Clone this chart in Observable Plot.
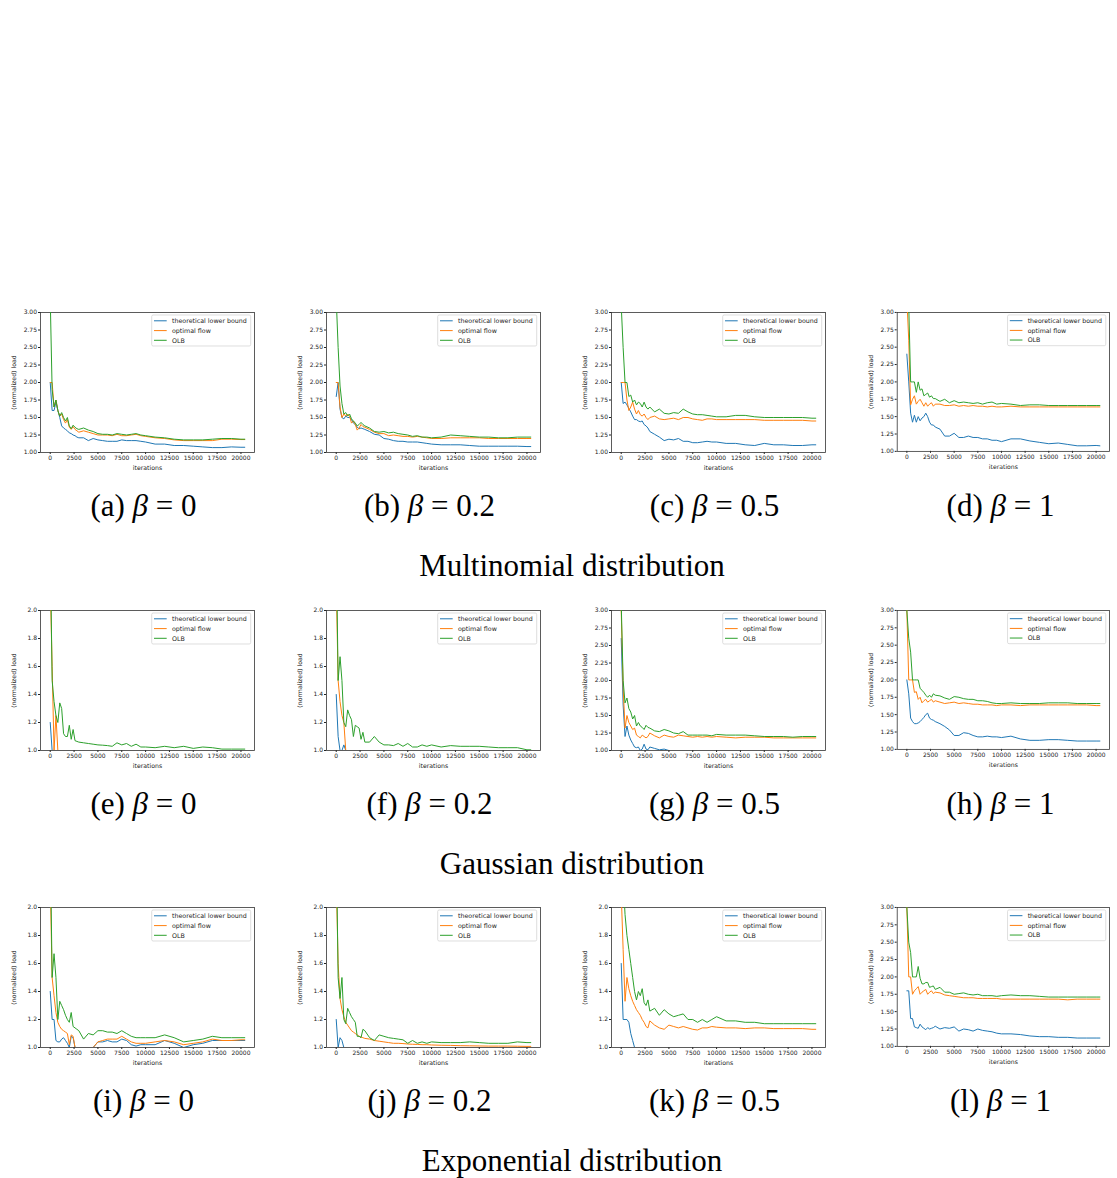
<!DOCTYPE html>
<html><head><meta charset="utf-8">
<script src="https://cdn.jsdelivr.net/npm/d3@7"></script>
<script src="https://cdn.jsdelivr.net/npm/@observablehq/plot@0.6"></script>
<style>
html,body{margin:0;padding:0;background:#fff}
body{width:1117px;height:1178px;position:relative;overflow:hidden}
.panel{position:absolute}
.cap{position:absolute;font-family:"Liberation Serif",serif;font-size:31px;color:#000;white-space:nowrap;transform:translate(-50%,-50%);line-height:1}
</style></head><body>
<script>
// ---- data ----
const iterations = [0,200,400,600,800,1000,1200,1400,1600,1800,2000,2200,2400,2600,2800,3000,3500,4000,4500,5000,5500,6000,6500,7000,7500,8000,8500,9000,9500,10000,11000,12000,13000,14000,15000,16000,17000,18000,19000,20000,20400];
const seriesNames = ["theoretical lower bound", "optimal flow", "OLB"];
const seriesColors = ["#1f77b4", "#ff7f0e", "#2ca02c"];
const panelLetters = ["a","b","c","d","e","f","g","h","i","j","k","l"];
const betas = ["0","0.2","0.5","1"];
const distributions = ["Multinomial distribution","Gaussian distribution","Exponential distribution"];
const yMaxima = [3,3,3,3, 2,2,3,3, 2,2,2,3];
const xTicks = [0,2500,5000,7500,10000,12500,15000,17500,20000];

// Multinomial
const multiB0Lower = [2.0,1.6,1.6,1.72,1.6,1.5,1.38,1.35,1.33,1.31,1.28,1.27,1.25,1.24,1.22,1.21,1.21,1.17,1.2,1.18,1.17,1.16,1.16,1.16,1.18,1.17,1.17,1.17,1.16,1.15,1.12,1.12,1.1,1.1,1.09,1.08,1.07,1.07,1.08,1.075,1.075];
const multiB0Flow  = [2.0,2.0,1.65,1.75,1.6,1.52,1.55,1.47,1.42,1.47,1.36,1.33,1.37,1.33,1.31,1.29,1.31,1.29,1.27,1.25,1.25,1.25,1.24,1.26,1.24,1.24,1.25,1.26,1.24,1.23,1.21,1.2,1.18,1.17,1.17,1.17,1.17,1.19,1.19,1.185,1.185];
const multiB0OLB   = [3.2,1.9,1.65,1.75,1.6,1.52,1.57,1.5,1.45,1.5,1.38,1.34,1.39,1.36,1.34,1.33,1.35,1.32,1.3,1.27,1.26,1.26,1.25,1.27,1.26,1.25,1.26,1.27,1.25,1.24,1.22,1.21,1.19,1.18,1.18,1.18,1.19,1.2,1.2,1.19,1.19];
const multiB02Lower = [1.8,2.0,1.62,1.5,1.48,1.52,1.5,1.5,1.47,1.42,1.4,1.36,1.34,1.35,1.34,1.33,1.3,1.26,1.25,1.2,1.19,1.17,1.16,1.16,1.15,1.15,1.15,1.14,1.13,1.12,1.11,1.11,1.11,1.1,1.09,1.09,1.09,1.09,1.09,1.085,1.085];
const multiB02Flow  = [2.0,2.0,1.65,1.5,1.55,1.52,1.55,1.52,1.42,1.45,1.4,1.32,1.35,1.4,1.37,1.36,1.33,1.29,1.27,1.27,1.24,1.25,1.24,1.23,1.23,1.22,1.23,1.22,1.21,1.2,1.2,1.21,1.21,1.21,1.21,1.2,1.2,1.2,1.2,1.2,1.2];
const multiB02OLB   = [3.2,2.5,1.95,1.7,1.55,1.57,1.52,1.55,1.48,1.45,1.42,1.38,1.4,1.43,1.4,1.38,1.35,1.3,1.29,1.3,1.28,1.29,1.27,1.26,1.25,1.23,1.24,1.22,1.22,1.21,1.22,1.25,1.24,1.23,1.22,1.22,1.21,1.21,1.22,1.22,1.22];
const multiB05Lower = [2.0,1.7,1.72,1.68,1.63,1.58,1.52,1.47,1.47,1.45,1.44,1.45,1.4,1.38,1.35,1.3,1.26,1.22,1.17,1.19,1.18,1.2,1.16,1.16,1.14,1.14,1.15,1.16,1.15,1.15,1.13,1.13,1.11,1.1,1.13,1.11,1.11,1.1,1.1,1.11,1.11];
const multiB05Flow  = [2.0,2.0,2.0,1.75,1.6,1.65,1.72,1.62,1.55,1.6,1.54,1.52,1.55,1.5,1.47,1.5,1.52,1.48,1.47,1.48,1.49,1.47,1.5,1.5,1.48,1.47,1.46,1.48,1.48,1.47,1.47,1.47,1.47,1.47,1.46,1.46,1.46,1.46,1.46,1.45,1.45];
const multiB05OLB   = [3.1,2.5,2.0,2.0,1.8,1.82,1.72,1.75,1.68,1.72,1.7,1.65,1.72,1.65,1.62,1.65,1.58,1.62,1.56,1.55,1.57,1.56,1.62,1.58,1.55,1.54,1.54,1.53,1.52,1.51,1.51,1.53,1.53,1.51,1.5,1.5,1.5,1.5,1.5,1.49,1.49];
const multiB1Lower = [2.4,2.0,1.55,1.42,1.52,1.42,1.5,1.44,1.48,1.5,1.55,1.5,1.42,1.38,1.38,1.35,1.32,1.22,1.22,1.26,1.2,1.2,1.22,1.2,1.2,1.18,1.18,1.16,1.16,1.14,1.18,1.18,1.15,1.13,1.11,1.12,1.1,1.08,1.08,1.085,1.08];
const multiB1Flow  = [3.2,2.6,1.67,1.75,1.8,1.68,1.72,1.75,1.7,1.65,1.7,1.65,1.68,1.7,1.65,1.68,1.68,1.66,1.66,1.67,1.65,1.66,1.65,1.66,1.65,1.65,1.64,1.65,1.64,1.64,1.65,1.64,1.64,1.64,1.64,1.64,1.64,1.64,1.64,1.64,1.64];
const multiB1OLB   = [3.5,3.1,2.0,2.0,2.0,1.85,2.0,1.88,1.9,1.8,1.82,1.84,1.78,1.8,1.76,1.76,1.72,1.75,1.7,1.73,1.7,1.71,1.7,1.69,1.7,1.68,1.7,1.71,1.68,1.69,1.68,1.66,1.67,1.67,1.66,1.66,1.66,1.66,1.66,1.66,1.66];

// Gaussian
const gaussB0Lower = [1.2,1.0,1.0,1.0,1.0,1.0,1.0,1.0,1.0,1.0,1.0,1.0,1.0,1.0,1.0,1.0,1.0,1.0,1.0,1.0,1.0,1.0,1.0,1.0,1.0,1.0,1.0,1.0,1.0,1.0,1.0,1.0,1.0,1.0,1.0,1.0,1.0,1.0,1.0,1.0,1.0];
const gaussB0Flow  = [2.2,1.6,1.0,1.25,1.0,1.0,1.0,1.0,1.0,1.0,1.0,1.0,1.0,1.0,1.0,1.0,1.0,1.0,1.0,1.0,1.0,1.0,1.0,1.0,1.0,1.0,1.0,1.0,1.0,1.0,1.0,1.0,1.0,1.0,1.0,1.0,1.0,1.0,1.0,1.0,1.0];
const gaussB0OLB   = [2.5,1.5,1.35,1.25,1.2,1.34,1.3,1.12,1.1,1.1,1.18,1.08,1.15,1.07,1.065,1.06,1.055,1.05,1.045,1.04,1.038,1.035,1.03,1.055,1.04,1.05,1.03,1.045,1.025,1.025,1.02,1.03,1.02,1.03,1.015,1.025,1.02,1.01,1.01,1.01,1.01];
const gaussB02Lower = [1.4,1.1,1.0,1.0,1.04,1.0,1.0,1.0,1.0,1.0,1.0,1.0,1.0,1.0,1.0,1.0,1.0,1.0,1.0,1.0,1.0,1.0,1.0,1.0,1.0,1.0,1.0,1.0,1.0,1.0,1.0,1.0,1.0,1.0,1.0,1.0,1.0,1.0,1.0,1.0,1.0];
const gaussB02Flow  = [2.2,1.5,1.35,1.25,1.2,1.0,1.0,1.0,1.0,1.0,1.0,1.0,1.0,1.0,1.0,1.0,1.0,1.0,1.0,1.0,1.0,1.0,1.0,1.0,1.0,1.0,1.0,1.0,1.0,1.0,1.0,1.0,1.0,1.0,1.0,1.0,1.0,1.0,1.0,1.0,1.0];
const gaussB02OLB   = [2.5,1.5,1.67,1.5,1.2,1.17,1.29,1.25,1.22,1.1,1.18,1.17,1.16,1.08,1.13,1.06,1.06,1.1,1.06,1.04,1.04,1.035,1.05,1.03,1.05,1.025,1.025,1.04,1.03,1.04,1.025,1.035,1.03,1.03,1.03,1.025,1.02,1.02,1.02,1.005,1.005];
const gaussB05Lower = [2.6,1.65,1.2,1.35,1.22,1.15,1.1,1.05,1.04,1.05,1.0,1.02,1.09,1.02,1.01,1.05,1.03,1.01,1.02,1.0,1.0,1.0,1.0,1.0,1.0,1.0,1.0,1.0,1.0,1.0,1.0,1.0,1.0,1.0,1.0,1.0,1.0,1.0,1.0,1.0,1.0];
const gaussB05Flow  = [3.0,1.9,1.32,1.5,1.4,1.35,1.3,1.32,1.22,1.2,1.18,1.22,1.2,1.18,1.2,1.25,1.21,1.18,1.22,1.2,1.19,1.22,1.21,1.2,1.19,1.2,1.19,1.2,1.19,1.2,1.19,1.18,1.19,1.19,1.19,1.18,1.18,1.18,1.18,1.18,1.18];
const gaussB05OLB   = [3.1,2.0,1.68,1.75,1.6,1.55,1.45,1.5,1.35,1.4,1.35,1.33,1.3,1.36,1.33,1.32,1.28,1.27,1.3,1.28,1.25,1.24,1.27,1.22,1.22,1.22,1.22,1.22,1.21,1.23,1.22,1.22,1.22,1.21,1.2,1.2,1.2,1.19,1.2,1.2,1.2];
const gaussB1Lower = [2.0,1.8,1.45,1.4,1.37,1.37,1.38,1.4,1.43,1.46,1.5,1.52,1.45,1.43,1.42,1.4,1.37,1.33,1.28,1.2,1.2,1.24,1.23,1.2,1.18,1.18,1.19,1.18,1.18,1.17,1.19,1.15,1.13,1.13,1.14,1.14,1.13,1.12,1.12,1.12,1.12];
const gaussB1Flow  = [3.0,2.0,2.0,2.0,1.82,1.83,1.72,1.75,1.67,1.7,1.72,1.68,1.7,1.72,1.68,1.7,1.68,1.66,1.67,1.68,1.66,1.67,1.66,1.65,1.65,1.64,1.64,1.64,1.63,1.64,1.64,1.63,1.64,1.64,1.64,1.64,1.64,1.64,1.64,1.63,1.63];
const gaussB1OLB   = [3.0,2.6,2.4,2.0,2.0,2.0,2.0,1.88,1.85,1.82,1.78,1.75,1.78,1.75,1.8,1.78,1.77,1.74,1.72,1.76,1.75,1.73,1.72,1.72,1.7,1.7,1.69,1.67,1.66,1.66,1.67,1.66,1.66,1.66,1.67,1.67,1.67,1.66,1.66,1.66,1.66];

// Exponential
const expoB0Lower = [1.4,1.2,1.2,1.05,1.04,1.04,1.06,1.07,1.05,1.03,1.0,1.08,1.07,1.0,1.0,1.0,1.0,1.0,1.0,1.04,1.04,1.05,1.04,1.04,1.06,1.05,1.02,1.01,1.02,1.02,1.02,1.05,1.03,1.0,1.02,1.03,1.05,1.05,1.05,1.05,1.05];
const expoB0Flow  = [2.2,1.5,1.37,1.25,1.18,1.15,1.13,1.12,1.11,1.1,1.02,1.09,1.08,1.0,1.0,1.0,1.0,1.0,1.0,1.04,1.05,1.06,1.06,1.06,1.08,1.06,1.04,1.03,1.03,1.03,1.04,1.05,1.04,1.02,1.03,1.04,1.06,1.05,1.05,1.055,1.055];
const expoB0OLB   = [2.5,1.5,1.67,1.5,1.2,1.33,1.3,1.27,1.23,1.2,1.18,1.25,1.15,1.14,1.13,1.12,1.06,1.1,1.09,1.12,1.12,1.11,1.11,1.1,1.12,1.1,1.08,1.07,1.07,1.07,1.07,1.09,1.07,1.04,1.05,1.06,1.08,1.07,1.07,1.07,1.07];
const expoB02Lower = [1.2,1.0,1.07,1.05,1.0,1.0,1.0,1.0,1.0,1.0,1.0,1.0,1.0,1.0,1.0,1.0,1.0,1.0,1.0,1.0,1.0,1.0,1.0,1.0,1.0,1.0,1.0,1.0,1.0,1.0,1.0,1.0,1.0,1.0,1.0,1.0,1.0,1.0,1.0,1.0,1.0];
const expoB02Flow  = [2.2,1.6,1.35,1.27,1.22,1.18,1.16,1.14,1.12,1.11,1.1,1.09,1.08,1.075,1.07,1.065,1.06,1.05,1.045,1.04,1.035,1.03,1.03,1.028,1.025,1.023,1.022,1.02,1.02,1.018,1.016,1.015,1.013,1.012,1.011,1.01,1.01,1.01,1.009,1.008,1.008];
const expoB02OLB   = [2.5,1.5,1.35,1.5,1.2,1.17,1.28,1.25,1.22,1.2,1.18,1.08,1.08,1.07,1.13,1.12,1.07,1.05,1.09,1.08,1.07,1.065,1.06,1.055,1.03,1.05,1.03,1.04,1.03,1.04,1.035,1.035,1.035,1.04,1.035,1.03,1.03,1.03,1.04,1.035,1.035];
const expoB05Lower = [1.6,1.2,1.2,1.2,1.18,1.1,1.05,1.0,1.0,1.0,1.0,1.0,1.0,1.0,1.0,1.0,1.0,1.0,1.0,1.0,1.0,1.0,1.0,1.0,1.0,1.0,1.0,1.0,1.0,1.0,1.0,1.0,1.0,1.0,1.0,1.0,1.0,1.0,1.0,1.0,1.0];
const expoB05Flow  = [2.1,1.7,1.33,1.5,1.42,1.37,1.33,1.3,1.27,1.25,1.23,1.2,1.18,1.15,1.14,1.19,1.16,1.14,1.13,1.16,1.15,1.14,1.15,1.14,1.13,1.125,1.14,1.14,1.15,1.145,1.14,1.14,1.135,1.14,1.14,1.135,1.135,1.135,1.135,1.13,1.13];
const expoB05OLB   = [3.0,2.2,1.95,1.8,1.7,1.6,1.5,1.4,1.34,1.4,1.37,1.42,1.32,1.3,1.34,1.26,1.28,1.23,1.27,1.24,1.22,1.23,1.24,1.2,1.2,1.18,1.2,1.18,1.2,1.22,1.19,1.19,1.18,1.18,1.17,1.17,1.17,1.17,1.17,1.17,1.17];
const expoB1Lower = [1.8,1.8,1.4,1.4,1.28,1.27,1.26,1.32,1.28,1.26,1.24,1.27,1.25,1.26,1.27,1.29,1.25,1.27,1.26,1.28,1.22,1.25,1.24,1.22,1.25,1.23,1.22,1.21,1.19,1.18,1.18,1.17,1.15,1.14,1.14,1.13,1.13,1.12,1.12,1.12,1.12];
const expoB1Flow  = [3.0,2.0,2.0,1.75,1.8,1.83,1.86,1.75,1.78,1.8,1.82,1.75,1.78,1.8,1.76,1.78,1.77,1.74,1.73,1.72,1.71,1.7,1.7,1.7,1.69,1.69,1.69,1.69,1.69,1.68,1.68,1.68,1.68,1.68,1.68,1.68,1.67,1.68,1.68,1.68,1.68];
const expoB1OLB   = [3.0,2.5,2.35,2.0,2.0,2.0,2.15,1.98,1.9,1.9,1.92,1.92,1.85,1.86,1.87,1.82,1.85,1.78,1.78,1.75,1.76,1.77,1.75,1.74,1.75,1.73,1.73,1.73,1.72,1.73,1.74,1.73,1.73,1.72,1.71,1.71,1.71,1.71,1.71,1.71,1.71];

const panelSeries = [
  [multiB0Lower, multiB0Flow, multiB0OLB],
  [multiB02Lower, multiB02Flow, multiB02OLB],
  [multiB05Lower, multiB05Flow, multiB05OLB],
  [multiB1Lower, multiB1Flow, multiB1OLB],
  [gaussB0Lower, gaussB0Flow, gaussB0OLB],
  [gaussB02Lower, gaussB02Flow, gaussB02OLB],
  [gaussB05Lower, gaussB05Flow, gaussB05OLB],
  [gaussB1Lower, gaussB1Flow, gaussB1OLB],
  [expoB0Lower, expoB0Flow, expoB0OLB],
  [expoB02Lower, expoB02Flow, expoB02OLB],
  [expoB05Lower, expoB05Flow, expoB05OLB],
  [expoB1Lower, expoB1Flow, expoB1OLB]
];

// ---- layout ----
const colLeft = [40, 326, 611, 897];
const rowTop = [312, 610, 907];
const FW = 214, FH = 140;
const ML = 40, MR = 8, MT = 6, MB = 28;
const capOffsetY = 53, titleOffsetY = 113;

function legendMark(index, scales, values, dims) {
  const right = dims.width - dims.marginRight - 3.3;
  const top = dims.marginTop + 3;
  const bw = 99, bh = 31;
  const left = right - bw;
  const g = d3.create("svg:g");
  g.append("rect").attr("x", left).attr("y", top).attr("width", bw).attr("height", bh)
    .attr("rx", 1.5).attr("fill", "#fff").attr("fill-opacity", 0.8)
    .attr("stroke", "#d0d0d0").attr("stroke-width", 0.7);
  const rowsY = [5.8, 15.6, 25.3];
  seriesNames.forEach((name, i) => {
    const y = top + rowsY[i];
    g.append("line").attr("x1", left + 2.3).attr("x2", left + 15).attr("y1", y).attr("y2", y)
      .attr("stroke", seriesColors[i]).attr("stroke-width", 1);
    g.append("text").attr("x", left + 20.3).attr("y", y).attr("dy", "0.35em")
      .attr("text-anchor", "start")
      .attr("font-size", 6.3).attr("fill", "#222").text(name);
  });
  return g.node();
}

function makePanel(k) {
  const ymax = yMaxima[k];
  const data = panelSeries[k];
  const yTicks = ymax === 3 ? d3.range(9).map(i => 1 + i * 0.25) : d3.range(6).map(i => 1 + i * 0.2);
  const yFmt = ymax === 3 ? d3.format(".2f") : d3.format(".1f");
  const lineMarks = data.map((vals, s) =>
    Plot.line(iterations.map((x, i) => ({x, y: vals[i]})),
      {x: "x", y: "y", stroke: seriesColors[s], strokeWidth: 1, clip: true})
  );
  return Plot.plot({
    width: FW + ML + MR, height: FH + MT + MB,
    marginLeft: ML, marginRight: MR, marginTop: MT, marginBottom: MB,
    style: {fontFamily: "DejaVu Sans", fontSize: "6px", color: "#222", background: "transparent", overflow: "visible"},
    x: {domain: [-1020, 21420], ticks: xTicks, tickFormat: d3.format("d"), label: null, tickSize: 2, tickPadding: 1.5},
    y: {domain: [1, ymax], ticks: yTicks, tickFormat: yFmt, label: null, tickSize: 2, tickPadding: 1.5},
    marks: [
      Plot.frame({stroke: "#333", strokeWidth: 0.8}),
      ...lineMarks,
      Plot.text(["(normalized) load"], {frameAnchor: "left", dx: -26, rotate: -90, textAnchor: "middle", lineAnchor: "middle", fontSize: 6.2, fill: "#222"}),
      Plot.text(["iterations"], {frameAnchor: "bottom", dy: 16, textAnchor: "middle", lineAnchor: "middle", fontSize: 6.2, fill: "#222"}),
      legendMark
    ]
  });
}

for (let k = 0; k < 12; k++) {
  const r = Math.floor(k / 4), c = k % 4;
  const wrap = document.createElement("div");
  wrap.className = "panel";
  wrap.style.left = (colLeft[c] - ML) + "px";
  wrap.style.top = (rowTop[r] - MT) + "px";
  wrap.appendChild(makePanel(k));
  document.body.appendChild(wrap);

  const cap = document.createElement("div");
  cap.className = "cap";
  cap.style.left = (colLeft[c] + FW / 2 - 3.5) + "px";
  cap.style.top = (rowTop[r] + FH + capOffsetY) + "px";
  cap.innerHTML = "(" + panelLetters[k] + ") <i>β</i> = " + betas[c];
  document.body.appendChild(cap);
}
distributions.forEach((t, r) => {
  const d = document.createElement("div");
  d.className = "cap";
  d.style.left = "572px";
  d.style.top = (rowTop[r] + FH + titleOffsetY) + "px";
  d.textContent = t;
  document.body.appendChild(d);
});
</script>
</body></html>
